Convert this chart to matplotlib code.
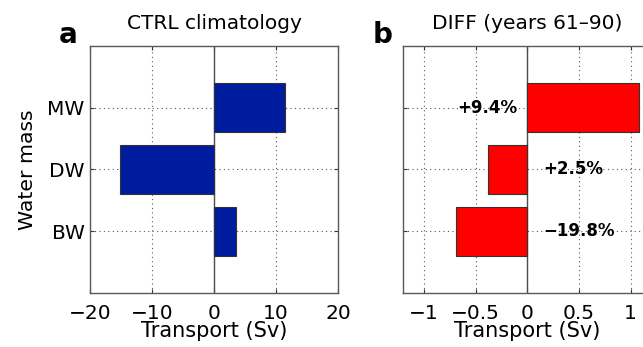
import matplotlib
matplotlib.use("Agg")
import matplotlib.pyplot as plt

plt.rcParams['font.family'] = ['DejaVu Sans']

masses = ['BW', 'DW', 'MW']
ctrl = [3.5, -15.1, 11.45]
diff = [-0.69, -0.38, 1.08]
pct = ['\u221219.8%', '+2.5%', '+9.4%']

ypos = [1, 2, 3]

fig = plt.figure(figsize=(6.43, 3.47), dpi=100)
ax1 = fig.add_axes([90/643, 54/347, 248/643, 247/347])
ax2 = fig.add_axes([403.3/643, 54/347, 248/643, 247/347])


def style(ax, xlim, xticks, xticklabels):
    ax.set_xlim(xlim)
    ax.set_ylim(0, 4)
    ax.set_xticks(xticks)
    ax.set_xticklabels(xticklabels)
    ax.set_yticks(ypos)
    ax.grid(True, linestyle=(0, (1, 3)), color='0.35', linewidth=0.8)
    ax.set_axisbelow(True)
    ax.tick_params(direction='in', length=3, width=0.8, top=True, right=True,
                   labelsize=14.5, color='0.2')
    ax.tick_params(axis='x', pad=8)
    ax.tick_params(axis='y', pad=4)
    for s in ax.spines.values():
        s.set_color('0.35')
        s.set_linewidth(1.0)
    ax.axvline(0, color='0.3', linewidth=1.0, zorder=1)
    ax.set_xlabel('Transport (Sv)', fontsize=15)
    ax.xaxis.set_label_coords(0.5, -0.115)


style(ax1, (-20, 20), [-20, -10, 0, 10, 20], ['\u221220', '\u221210', '0', '10', '20'])
ax1.barh(ypos, ctrl, height=0.8, color='#001c9e', edgecolor='0.2', linewidth=0.8, zorder=2)
ax1.set_yticklabels(masses)
ax1.set_ylabel('Water mass', fontsize=14.7)
ax1.yaxis.set_label_coords(-0.215, 0.5)
ax1.set_title('CTRL climatology', fontsize=14.5, pad=12.5)

style(ax2, (-1.2, 1.2), [-1, -0.5, 0, 0.5, 1], ['\u22121', '\u22120.5', '0', '0.5', '1'])
ax2.barh(ypos, diff, height=0.8, color='#ff0000', edgecolor='0.2', linewidth=0.8, zorder=2)
ax2.set_yticklabels([])
ax2.set_title('DIFF (years 61\u201390)', fontsize=14.5, pad=12.5)
for y, d, p in zip(ypos, diff, pct):
    if d > 0:
        ax2.text(-0.1, y, p, ha='right', va='center', fontsize=12, fontweight='bold')
    else:
        ax2.text(0.15, y, p, ha='left', va='center', fontsize=12, fontweight='bold')

fig.text(59/643, 1 - 43/347, 'a', fontsize=20, fontweight='bold', va='baseline')
fig.text(373/643, 1 - 43/347, 'b', fontsize=20, fontweight='bold', va='baseline')

fig.savefig('out.png', dpi=100)
